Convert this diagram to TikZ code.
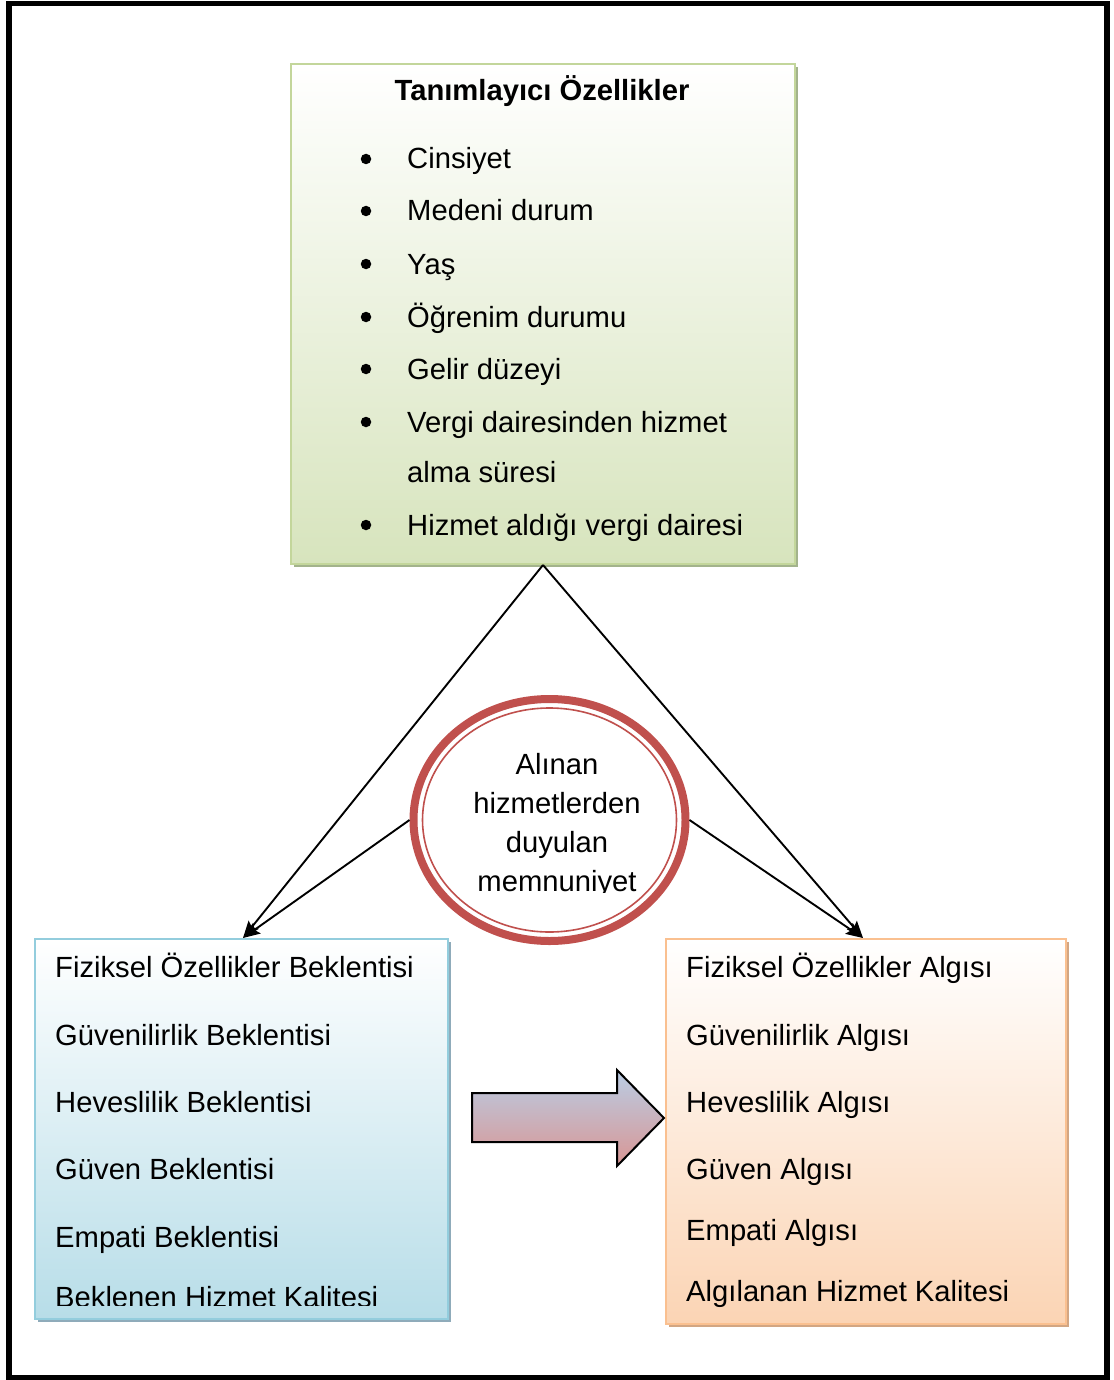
\documentclass[tikz,border=0pt]{standalone}
\usepackage{fontspec}
\setmainfont{Liberation Sans}
\usetikzlibrary{arrows.meta,shapes.geometric,calc}
\definecolor{grnborder}{HTML}{C3D69B}
\definecolor{grnbottom}{HTML}{D7E4BD}
\definecolor{grnshadow}{HTML}{A3B38C}
\definecolor{bluborder}{HTML}{93CDDD}
\definecolor{blubottom}{HTML}{B7DDE8}
\definecolor{blushadow}{HTML}{8FABBA}
\definecolor{orgborder}{HTML}{FAC090}
\definecolor{orgbottom}{HTML}{FBD4B4}
\definecolor{orgshadow}{HTML}{D2A683}
\definecolor{ringred}{HTML}{C0504D}
\definecolor{arrtop}{HTML}{B9CDE5}
\definecolor{arrbot}{HTML}{D99694}
\begin{document}
\begin{tikzpicture}[x=1pt,y=-1pt,
  txt/.style={font=\fontsize{29.2}{35}\selectfont, inner sep=0pt},
  boxshape/.style={rectangle, inner sep=0pt, line width=2pt, anchor=north west},
  shadowbox/.style={rectangle, inner sep=0pt, anchor=north west, draw=none},
  bulletdot/.style={circle, fill=black, inner sep=0pt, minimum size=10.5pt},
  conn/.style={line width=1.9pt, -{Stealth[length=17pt,width=13pt,inset=3pt]}}
]
\useasboundingbox (0,0) rectangle (1113,1380);
% outer frame
\draw[line width=5.5pt] (9,3.5) rectangle (1107,1377.5);

% top box
\node[shadowbox, fill=grnshadow, minimum width=504pt, minimum height=500pt] (topsh) at (294,67) {};
\node[boxshape, draw=grnborder, top color=white, bottom color=grnbottom, minimum width=504pt, minimum height=500pt] (top) at (290,63) {};
\node[txt, font=\fontsize{29.2}{35}\selectfont\bfseries, anchor=base] (title) at (542,101) {Tanımlayıcı Özellikler};
\foreach \yy/\t [count=\i] in {169/Cinsiyet, 221/Medeni durum, 274/Yaş, 327/Öğrenim durumu, 379/Gelir düzeyi, 432/Vergi dairesinden hizmet, 535/Hizmet aldığı vergi dairesi}{
  \node[bulletdot] (b\i) at (366,\yy-10) {};
  \node[txt, anchor=base west] (t\i) at (407,\yy) {\t};
}
\node[txt, anchor=base west] (t6b) at (407,482) {alma süresi};

% left box
\node[shadowbox, fill=blushadow, minimum width=413pt, minimum height=380pt] (lsh) at (38,942) {};
\node[boxshape, draw=bluborder, top color=white, bottom color=blubottom, minimum width=413pt, minimum height=380pt] (lbox) at (34,938) {};
\foreach \yy/\t [count=\i] in {977/Fiziksel Özellikler Beklentisi, 1045/Güvenilirlik Beklentisi, 1112/Heveslilik Beklentisi, 1179/Güven Beklentisi, 1247/Empati Beklentisi}{
  \node[txt, anchor=base west] (l\i) at (55,\yy) {\t};
}
\begin{scope}
  \clip (34,938) rectangle (447,1305);
  \node[txt, anchor=base west] (l6) at (55,1307) {Beklenen Hizmet Kalitesi};
\end{scope}

% right box
\node[shadowbox, fill=orgshadow, minimum width=400pt, minimum height=385pt] (rsh) at (669,942) {};
\node[boxshape, draw=orgborder, top color=white, bottom color=orgbottom, minimum width=400pt, minimum height=385pt] (rbox) at (665,938) {};
\foreach \yy/\t [count=\i] in {977/Fiziksel Özellikler Algısı, 1045/Güvenilirlik Algısı, 1112/Heveslilik Algısı, 1179/Güven Algısı, 1240/Empati Algısı, 1301/Algılanan Hizmet Kalitesi}{
  \node[txt, anchor=base west] (r\i) at (686,\yy) {\t};
}

% block arrow
\path[draw=black, line width=2pt, top color=arrtop, bottom color=arrbot]
  (472,1093) -- (617,1093) -- (617,1070) -- (664,1118) -- (617,1166) -- (617,1142) -- (472,1142) -- cycle;

% satisfaction ellipse
\node[ellipse, draw=ringred, fill=white, line width=8pt, minimum width=272pt, minimum height=242pt, inner sep=0pt] (sat) at (549.5,820) {};
\draw[ringred, line width=1.6pt] (sat.center) ellipse [x radius=127pt, y radius=112pt];
\begin{scope}
  \clip (420,730) rectangle (690,892);
  \node[txt, anchor=base] (s1) at (557,774) {Alınan};
  \node[txt, anchor=base] (s2) at (557,813) {hizmetlerden};
  \node[txt, anchor=base] (s3) at (557,852) {duyulan};
  \node[txt, anchor=base] (s4) at (557,891) {memnuniyet};
\end{scope}

% connectors
\coordinate (ltgt) at (243,938);
\coordinate (rtgt) at (863,938);
\draw[conn] (top.south) -- (ltgt);
\draw[conn] (top.south) -- (rtgt);
\draw[conn] (sat.west) -- (ltgt);
\draw[conn] (sat.east) -- (rtgt);
\end{tikzpicture}
\end{document}
